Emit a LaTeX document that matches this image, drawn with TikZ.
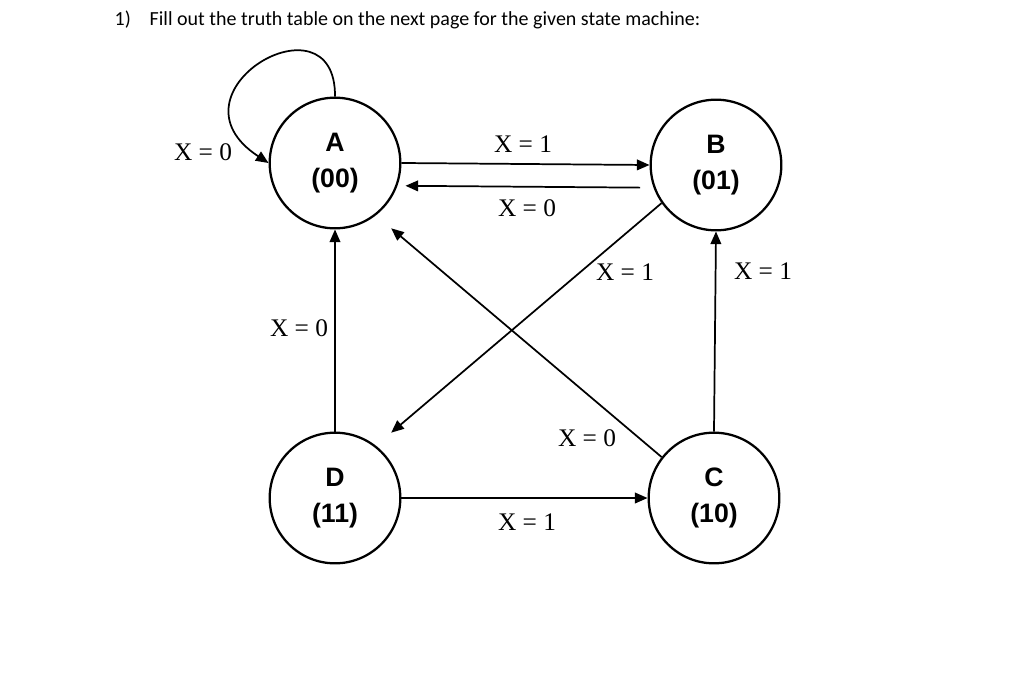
\documentclass[tikz,border=0pt]{standalone}
\usepackage{fontspec}
\setmainfont{Liberation Serif}
\newfontfamily\statefont{Liberation Sans}
\newfontfamily\titlefont{Carlito}
\usepackage{tikz}
\usetikzlibrary{
  positioning,
  calc,
  arrows.meta
}

\begin{document}
\begin{tikzpicture}[x=0.75pt, y=-0.75pt,
    state/.style={draw, circle, line width=1.7pt, minimum size=98pt, inner sep=0pt,
      align=center, font=\statefont\bfseries\fontsize{20}{27}\selectfont},
    trans/.style={line width=1.3pt, -{Triangle[length=9.5pt, width=8pt]}},
    cond/.style={font=\fontsize{19}{22}\selectfont, inner sep=1pt}]
      \useasboundingbox (0,0) rectangle (1024,678);

      % Heading
      \node[anchor=base west, font=\titlefont\fontsize{15}{18}\selectfont] (num) at (110,25) {1)};
      \node[anchor=base west, font=\titlefont\fontsize{15}{18}\selectfont] (task) at (145,25)
        {Fill out the truth table on the next page for the given state machine:};

      % States
      \node[state] (A) at (335,163) {A\\(00)};
      \node[state] (B) at (716,165) {B\\(01)};
      \node[state] (D) at (335,498) {D\\(11)};
      \node[state] (C) at (714,498) {C\\(10)};

      % Top pair A <-> B
      \draw[trans] (A.east) -- (B.west);
      \node[cond] (lab1) at (523,144) {X = 1};
      \draw[trans, shorten <=10pt, shorten >=6pt] (B.200) -- (A.-20);
      \node[cond] (lab2) at (527,208) {X = 0};

      % Self loop on A
      \draw[trans] (A.north) .. controls (336,-10) and (160,92) .. (A.west);
      \node[cond] (lab3) at (203,152) {X = 0};

      % Verticals
      \draw[trans] (D.north) -- (A.south);
      \node[cond] (lab4) at (299,328) {X = 0};
      \draw[trans] (C.north) -- (B.south);
      \node[cond] (lab5) at (763,271) {X = 1};

      % Diagonals
      \draw[trans, shorten >=15pt] (C.142) -- (A.-52);
      \node[cond] (lab6) at (587,438) {X = 0};
      \draw[trans, shorten >=15pt] (B.215) -- (D.52);
      \node[cond] (lab7) at (625,272) {X = 1};

      % Bottom D -> C
      \draw[trans] (D.east) -- (C.west);
      \node[cond] (lab8) at (527,522) {X = 1};
    \end{tikzpicture}
\end{document}
